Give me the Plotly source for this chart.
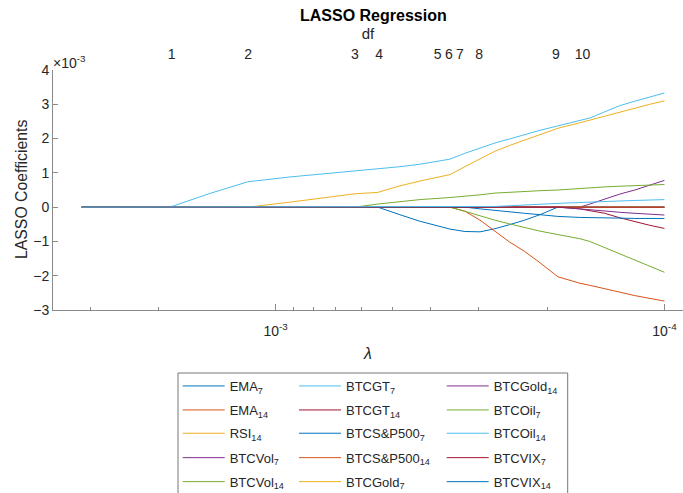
import math
import plotly.graph_objects as go

# ---------------- data (coefficients in units of 1e-3) ----------------
lam = [3.15e-3, 1.870e-3, 1.475e-3, 1.178e-3, 9.19e-4, 7.25e-4, 6.25e-4, 5.46e-4,
       4.79e-4, 4.26e-4, 3.56e-4, 3.26e-4, 2.98e-4, 2.73e-4, 2.50e-4, 2.29e-4,
       2.09e-4, 1.88e-4, 1.651e-4, 1.556e-4, 1.424e-4, 1.303e-4, 1.192e-4, 1.091e-4, 1.0e-4]

EMA7      = [0, 0, 0, 0, 0, 0, 0, 0, -0.22, -0.41, -0.64, -0.71, -0.72, -0.63, -0.51, -0.38,
             -0.22, 0, 0, 0, 0, 0, 0, 0, 0]
EMA14     = [0, 0, 0, 0, 0, 0, 0, 0, 0, 0, 0, -0.12, -0.38, -0.70, -1.02, -1.29,
             -1.62, -2.03, -2.22, -2.28, -2.37, -2.48, -2.58, -2.66, -2.74]
RSI14     = [0, 0, 0, 0, 0.145, 0.295, 0.39, 0.43, 0.62, 0.76, 0.95, 1.18, 1.41, 1.63, 1.80, 1.96,
             2.12, 2.30, 2.46, 2.54, 2.66, 2.77, 2.89, 3.00, 3.10]
BTCVol7   = [0, 0, 0, 0, 0, 0, 0, 0, 0, 0, 0, 0, 0, 0, 0, 0,
             0, 0, 0, 0.09, 0.24, 0.38, 0.50, 0.65, 0.78]
BTCVol14  = [0, 0, 0, 0, 0, 0, 0, 0.09, 0.16, 0.22, 0.28, 0.31, 0.36, 0.41, 0.44, 0.46,
             0.48, 0.50, 0.55, 0.57, 0.59, 0.61, 0.63, 0.65, 0.66]
BTCGT7    = [0, 0, 0.40, 0.74, 0.88, 0.99, 1.05, 1.12, 1.18, 1.25, 1.40, 1.57, 1.72, 1.87, 1.99, 2.12,
             2.24, 2.37, 2.53, 2.60, 2.78, 2.96, 3.09, 3.22, 3.33]
BTCGT14   = [0, 0, 0, 0, 0, 0, 0, 0, 0, 0, 0, 0, 0, 0, 0, 0,
             0, 0, -0.05, -0.10, -0.18, -0.31, -0.43, -0.53, -0.62]
BTCSP7    = [0] * 25
BTCSP14   = [0] * 25
BTCGold7  = [0] * 25
BTCGold14 = [0, 0, 0, 0, 0, 0, 0, 0, 0, 0, 0, 0, 0, 0, 0, 0,
             0, 0, -0.05, -0.08, -0.12, -0.15, -0.18, -0.21, -0.23]
BTCOil7   = [0, 0, 0, 0, 0, 0, 0, 0, 0, 0, 0, -0.12, -0.26, -0.38, -0.49, -0.60,
             -0.70, -0.80, -0.92, -1.00, -1.18, -1.36, -1.55, -1.73, -1.90]
BTCOil14  = [0, 0, 0, 0, 0, 0, 0, 0, 0, 0, 0, 0, 0, 0.02, 0.04, 0.055,
             0.08, 0.11, 0.135, 0.15, 0.165, 0.18, 0.195, 0.21, 0.22]
BTCVIX7   = [0] * 25
BTCVIX14  = [0, 0, 0, 0, 0, 0, 0, 0, 0, 0, 0, 0, -0.05, -0.10, -0.14, -0.18,
             -0.22, -0.27, -0.30, -0.31, -0.32, -0.32, -0.33, -0.33, -0.33]

names = ["EMA<sub>7</sub>", "EMA<sub>14</sub>", "RSI<sub>14</sub>", "BTCVol<sub>7</sub>",
         "BTCVol<sub>14</sub>", "BTCGT<sub>7</sub>", "BTCGT<sub>14</sub>", "BTCS&P500<sub>7</sub>",
         "BTCS&P500<sub>14</sub>", "BTCGold<sub>7</sub>", "BTCGold<sub>14</sub>", "BTCOil<sub>7</sub>",
         "BTCOil<sub>14</sub>", "BTCVIX<sub>7</sub>", "BTCVIX<sub>14</sub>"]
coefs = [EMA7, EMA14, RSI14, BTCVol7, BTCVol14, BTCGT7, BTCGT14, BTCSP7, BTCSP14,
         BTCGold7, BTCGold14, BTCOil7, BTCOil14, BTCVIX7, BTCVIX14]

df_lam = [1.851e-3, 1.176e-3, 6.25e-4, 5.42e-4, 3.83e-4, 3.585e-4, 3.36e-4, 2.996e-4, 1.902e-4, 1.624e-4]
df_labels = ["1", "2", "3", "4", "5", "6", "7", "8", "9", "10"]

x_major = [1e-3, 1e-4]
x_major_text = ["10<sup>-3</sup>", "10<sup>-4</sup>"]
x_minor = [3e-3, 2e-3, 9e-4, 8e-4, 7e-4, 6e-4, 5e-4, 4e-4, 3e-4, 2e-4, 9e-5]
y_ticks = [-3, -2, -1, 0, 1, 2, 3, 4]

colors = ['#0072BD', '#D95319', '#EDB120', '#7E2F8E', '#77AC30', '#4DBEEE', '#A2142F']

# ---------------- layout geometry ----------------
W, H = 683, 493
ML, MR, MT, MB = 53, 0, 70, 183
PW, PH = W - ML - MR, H - MT - MB
FONT = "Liberation Sans, Arial, Helvetica, sans-serif"
TXT = '#262626'
AX = '#8a8a8a'


def px_x(px):
    return (px - ML) / PW


def px_y(py):
    return (MT + PH - py) / PH


xr = [math.log10(3.736e-3), math.log10(8.96e-5)]

# drawing order (z-order) of the series, bottom to top
draw_order = [0, 1, 2, 3, 4, 5, 6, 7, 8, 9, 10, 11, 14, 13, 12]

fig = go.Figure()
for i in draw_order:
    lid = 'legend' if i == 0 else 'legend%d' % (i + 1)
    fig.add_trace(go.Scatter(x=lam, y=coefs[i], mode='lines', name=names[i],
                             line=dict(color=colors[i % 7], width=1), legend=lid))
fig.add_trace(go.Scatter(x=df_lam, y=[None] * len(df_lam), xaxis='x2', mode='lines',
                         showlegend=False, hoverinfo='skip'))

# legends: one per entry, arranged in 3 columns x 5 rows
col_x = [182.7, 299, 446.7]
row_y = [386, 410, 433.3, 457.7, 481.7]
legends = {}
for i in range(len(names)):
    lid = 'legend' if i == 0 else 'legend%d' % (i + 1)
    cx = col_x[i // 5]
    ry = row_y[i % 5]
    legends[lid] = dict(xref='container', yref='container',
                        x=(cx - 5) / W, y=1 - (ry - 15) / H,
                        xanchor='left', yanchor='top',
                        bgcolor='rgba(0,0,0,0)', borderwidth=0,
                        font=dict(family=FONT, size=13, color=TXT),
                        itemwidth=42)

fig.update_layout(
    width=W, height=H,
    margin=dict(l=ML, r=MR, t=MT, b=MB, autoexpand=False),
    paper_bgcolor='white', plot_bgcolor='white',
    font=dict(family=FONT, color=TXT, size=14),
    showlegend=True,
    xaxis=dict(type='log', range=xr, tickmode='array', tickvals=x_major, ticktext=x_major_text,
               ticks='inside', ticklen=6, tickcolor=AX, showline=True, linecolor=AX, linewidth=1,
               showgrid=False, zeroline=False, tickfont=dict(size=14, color=TXT),
               ticklabelstandoff=8,
               minor=dict(tickmode='array', tickvals=x_minor, ticks='inside', ticklen=3.5,
                          tickcolor=AX, showgrid=False),
               title=dict(text='<i>λ</i>', font=dict(size=16, color=TXT), standoff=10)),
    xaxis2=dict(type='log', range=xr, overlaying='x', side='top', anchor='y',
                tickmode='array', tickvals=df_lam, ticktext=df_labels, ticks='',
                showline=False, showgrid=False, zeroline=False,
                tickfont=dict(size=14, color=TXT), ticklabelstandoff=7,
                title=dict(text='df', font=dict(size=15, color=TXT), standoff=2)),
    yaxis=dict(range=[-3, 4], tickmode='array', tickvals=y_ticks, ticks='inside', ticklen=5,
               tickcolor=AX, showline=True, linecolor=AX, linewidth=1, showgrid=False,
               zeroline=False, tickfont=dict(size=14, color=TXT)),
    annotations=[
        dict(text='<b>LASSO Regression</b>', xref='paper', yref='paper',
             x=px_x(373), y=px_y(15.5), xanchor='center', yanchor='middle',
             showarrow=False, font=dict(size=16, color='black', family=FONT)),
        dict(text='×10<sup>-3</sup>', xref='paper', yref='paper',
             x=px_x(51), y=px_y(61.5), xanchor='left', yanchor='middle',
             showarrow=False, font=dict(size=14, color=TXT, family=FONT)),
        dict(text='LASSO Coefficients', xref='paper', yref='paper', textangle=-90,
             x=px_x(21), y=px_y(190), xanchor='center', yanchor='middle',
             showarrow=False, font=dict(size=15.8, color=TXT, family=FONT)),
    ],
    shapes=[dict(type='rect', xref='paper', yref='paper',
                 x0=px_x(178), x1=px_x(567.7), y0=px_y(373), y1=px_y(500),
                 line=dict(color='#777777', width=1), fillcolor='rgba(0,0,0,0)', layer='above')],
    **legends,
)

fig.write_html("out.html", config={'displayModeBar': False},
               post_script="document.body.style.margin='0px';document.body.style.overflow='hidden';")
